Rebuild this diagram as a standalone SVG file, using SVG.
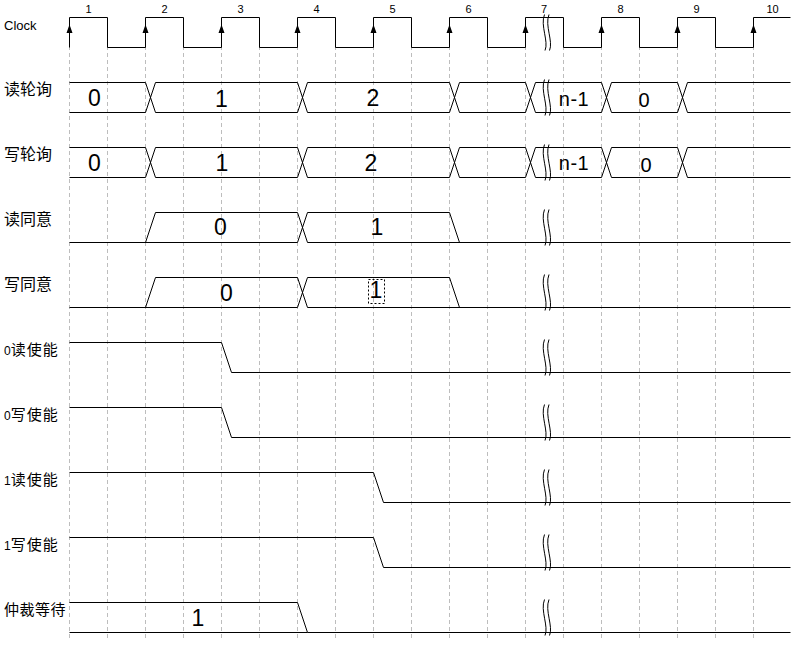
<svg xmlns="http://www.w3.org/2000/svg" width="808" height="655" viewBox="0 0 808 655">
<style>
.bg{fill:#fff}
.grid{stroke:#bdbdbd;stroke-width:1;stroke-dasharray:4 3;fill:none}
.sig{stroke:#000;stroke-width:1;fill:none}
.brk{stroke:#000;stroke-width:1;fill:none}
.lbl{font-family:"Noto Sans CJK SC","Liberation Sans",sans-serif;font-size:16px;fill:#000}
.lbl2{font-family:"Noto Sans CJK SC","Liberation Sans",sans-serif;font-size:15px;fill:#000}
.num{font-family:"Liberation Sans",Arial,sans-serif;font-size:23px;fill:#000;text-anchor:middle}
.snum{font-family:"Liberation Sans",Arial,sans-serif;font-size:20px;fill:#000;text-anchor:middle}
.cnum{font-family:"Liberation Sans",Arial,sans-serif;font-size:11px;fill:#000;text-anchor:middle}
.clk{font-family:"Liberation Sans",Arial,sans-serif;font-size:13px;fill:#000}
.box{stroke:#000;stroke-width:1;fill:none;stroke-dasharray:2 2}
</style>
<defs>
<path id="brk" class="brk" d="M544.5,-3 C540,8 549,24 545,33 M549,-3 C544.5,8 553.5,24 549.5,33"/>
<polygon id="arr" points="0,-4.5 -3,4 3,4" fill="#000"/>
</defs>
<rect class="bg" x="0" y="0" width="808" height="655"/>
<g id="grid">
<path class="grid" d="M69.5,18V640M107.5,18V640M145.5,18V640M183.5,18V640M221.5,18V640M259.5,18V640M297.5,18V640M335.5,18V640M373.5,18V640M411.5,18V640M449.5,18V640M487.5,18V640M525.5,18V640M563.5,18V640M601.5,18V640M639.5,18V640M677.5,18V640M715.5,18V640M753.5,18V640"/>
</g>
<g id="clock">
<text class="clk" x="4" y="29.5">Clock</text>
<path class="sig" d="M69.5,47.5V17.5H107.5V47.5H145.5V17.5H183.5V47.5H221.5V17.5H259.5V47.5H297.5V17.5H335.5V47.5H373.5V17.5H411.5V47.5H449.5V17.5H487.5V47.5H525.5V17.5H563.5V47.5H601.5V17.5H639.5V47.5H677.5V17.5H715.5V47.5H753.5V17.5H790.5"/>
<use href="#arr" x="69.5" y="29"/><use href="#arr" x="145.5" y="29"/><use href="#arr" x="221.5" y="29"/><use href="#arr" x="297.5" y="29"/><use href="#arr" x="373.5" y="29"/><use href="#arr" x="449.5" y="29"/><use href="#arr" x="525.5" y="29"/><use href="#arr" x="601.5" y="29"/><use href="#arr" x="677.5" y="29"/><use href="#arr" x="753.5" y="29"/>
<text class="cnum" x="88.5" y="12.5">1</text><text class="cnum" x="164.5" y="12.5">2</text><text class="cnum" x="240.5" y="12.5">3</text><text class="cnum" x="316.5" y="12.5">4</text><text class="cnum" x="392.5" y="12.5">5</text><text class="cnum" x="468.5" y="12.5">6</text><text class="cnum" x="544" y="12.5">7</text><text class="cnum" x="620.5" y="12.5">8</text><text class="cnum" x="696.5" y="12.5">9</text><text class="cnum" x="772.5" y="12.5">10</text>
<use href="#brk" y="17.5"/>
</g>
<g id="read-poll">
<text class="lbl" x="4" y="94.5">读轮询</text>
<path class="sig" d="M69.5,82.5H145.5L155.5,112.5H297.5L307.5,82.5H449.5L459.5,112.5H525.5L535.5,82.5H601.5L611.5,112.5H677.5L687.5,82.5H790.5 M69.5,112.5H145.5L155.5,82.5H297.5L307.5,112.5H449.5L459.5,82.5H525.5L535.5,112.5H601.5L611.5,82.5H677.5L687.5,112.5H790.5"/>
<use href="#brk" y="82.5"/>
<text class="num" x="94.5" y="105.5">0</text>
<text class="num" x="221.5" y="106.5">1</text>
<text class="num" x="373" y="106">2</text>
<text class="snum" x="574" y="106" letter-spacing="0.5">n-1</text>
<text class="snum" x="644" y="106.5">0</text>
</g>
<g id="write-poll">
<text class="lbl" x="4" y="159.5">写轮询</text>
<path class="sig" d="M69.5,147.5H145.5L155.5,177.5H297.5L307.5,147.5H449.5L459.5,177.5H525.5L535.5,147.5H601.5L611.5,177.5H677.5L687.5,147.5H790.5 M69.5,177.5H145.5L155.5,147.5H297.5L307.5,177.5H449.5L459.5,147.5H525.5L535.5,177.5H601.5L611.5,147.5H677.5L687.5,177.5H790.5"/>
<use href="#brk" y="147.5"/>
<text class="num" x="94.5" y="171">0</text>
<text class="num" x="222" y="171">1</text>
<text class="num" x="371" y="171">2</text>
<text class="snum" x="574" y="170" letter-spacing="0.5">n-1</text>
<text class="snum" x="646" y="171.5">0</text>
</g>
<g id="read-grant">
<text class="lbl" x="4" y="224.5">读同意</text>
<path class="sig" d="M69.5,242.5H297.5L307.5,212.5H449.5L459.5,242.5 M145.5,242.5L155.5,212.5H297.5L307.5,242.5H790.5"/>
<use href="#brk" y="212.5"/>
<text class="num" x="220.5" y="235">0</text>
<text class="num" x="377" y="235">1</text>
</g>
<g id="write-grant">
<text class="lbl" x="4" y="289.5">写同意</text>
<path class="sig" d="M69.5,307.5H297.5L307.5,277.5H449.5L459.5,307.5 M145.5,307.5L155.5,277.5H297.5L307.5,307.5H790.5"/>
<use href="#brk" y="277.5"/>
<text class="num" x="226.5" y="301">0</text>
<rect class="box" x="368.5" y="279.5" width="16" height="24"/>
<text class="num" x="376" y="297.5">1</text>
</g>
<g id="en0-read">
<text class="lbl2" x="4" y="355" letter-spacing="1"><tspan font-family="Liberation Sans, sans-serif" font-size="12" letter-spacing="0">0</tspan>读使能</text>
<path class="sig" d="M69.5,342.5H221.5L231.5,372.5H790.5"/>
<use href="#brk" y="342.5"/>
</g>
<g id="en0-write">
<text class="lbl2" x="4" y="420" letter-spacing="1"><tspan font-family="Liberation Sans, sans-serif" font-size="12" letter-spacing="0">0</tspan>写使能</text>
<path class="sig" d="M69.5,407.5H221.5L231.5,437.5H790.5"/>
<use href="#brk" y="407.5"/>
</g>
<g id="en1-read">
<text class="lbl2" x="4" y="485" letter-spacing="1"><tspan font-family="Liberation Sans, sans-serif" font-size="12" letter-spacing="0">1</tspan>读使能</text>
<path class="sig" d="M69.5,472.5H373.5L383.5,502.5H790.5"/>
<use href="#brk" y="472.5"/>
</g>
<g id="en1-write">
<text class="lbl2" x="4" y="550" letter-spacing="1"><tspan font-family="Liberation Sans, sans-serif" font-size="12" letter-spacing="0">1</tspan>写使能</text>
<path class="sig" d="M69.5,537.5H373.5L383.5,567.5H790.5"/>
<use href="#brk" y="537.5"/>
</g>
<g id="arb-wait">
<text class="lbl2" x="4" y="615" letter-spacing="0.5">仲裁等待</text>
<path class="sig" d="M69.5,602.5H297.5L307.5,632.5H790.5 M69.5,632.5H307.5"/>
<use href="#brk" y="602.5"/>
<text class="num" x="198" y="625.5">1</text>
</g>
</svg>
